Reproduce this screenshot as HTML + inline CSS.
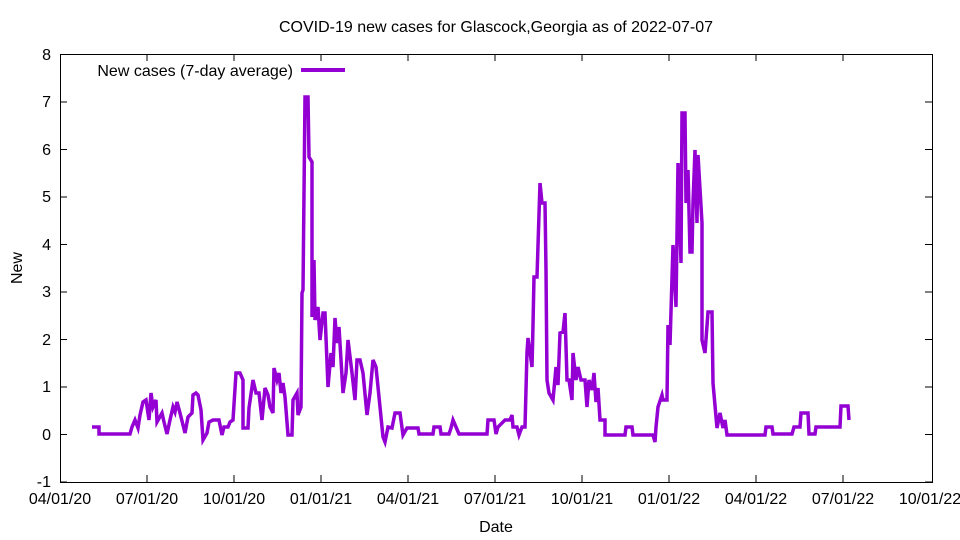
<!DOCTYPE html>
<html><head><style>body{margin:0;background:#fff}svg{display:block}text{font-family:"Liberation Sans",sans-serif;font-size:16px;fill:#000}</style></head><body>
<svg width="960" height="540" viewBox="0 0 960 540">
<rect x="60.5" y="54.5" width="872" height="428" fill="none" stroke="#000" stroke-width="1"/>
<g stroke="#000" stroke-width="1">
<path d="M60 54.5h7M60 102h7M60 149.5h7M60 197h7M60 244.5h7M60 292h7M60 339.5h7M60 387h7M60 434.5h7M60 482h7"/>
<path d="M932 54.5h-7M932 102h-7M932 149.5h-7M932 197h-7M932 244.5h-7M932 292h-7M932 339.5h-7M932 387h-7M932 434.5h-7M932 482h-7"/>
<path d="M147 482v-7M234 482v-7M321 482v-7M408 482v-7M495 482v-7M582 482v-7M669 482v-7M756 482v-7M843 482v-7"/>
<path d="M147 54v7M234 54v7M321 54v7M408 54v7M495 54v7M582 54v7M669 54v7M756 54v7M843 54v7"/>
</g>
<g text-anchor="end">
<text x="51" y="60">8</text><text x="51" y="107">7</text><text x="51" y="155">6</text><text x="51" y="202">5</text><text x="51" y="250">4</text><text x="51" y="297">3</text><text x="51" y="345">2</text><text x="51" y="392">1</text><text x="51" y="440">0</text><text x="51" y="487">-1</text>
</g>
<g text-anchor="middle">
<text x="60" y="504">04/01/20</text><text x="147" y="504">07/01/20</text><text x="234" y="504">10/01/20</text><text x="321" y="504">01/01/21</text><text x="408" y="504">04/01/21</text><text x="495" y="504">07/01/21</text><text x="582" y="504">10/01/21</text><text x="669" y="504">01/01/22</text><text x="756" y="504">04/01/22</text><text x="843" y="504">07/01/22</text><text x="930" y="504">10/01/22</text>
<text x="496" y="532">Date</text>
<text x="496" y="32">COVID-19 new cases for Glascock,Georgia as of 2022-07-07</text>
</g>
<text x="22" y="268" text-anchor="middle" transform="rotate(-90 22 268)">New</text>
<text x="293" y="76" text-anchor="end">New cases (7-day average)</text>
<path d="M301 70h44" stroke="#9400d3" stroke-width="4"/>
<polyline fill="none" stroke="#9400d3" stroke-width="3.5" stroke-linejoin="miter" points="
92,427 99,427 99,434 130,434 132,427 135,420 138,428 140,415 143,402 146,400 149,420 151,393 153,407 156,400 157,422 162,413 164,422 167,434 170,420 173,407 175,412 177,402 180,413 185,433 188,417 192,413 193,395 196,393 198,395 201,410 203,440 207,433 209,422 213,420 219,420 222,435 224,427 228,427 230,422 233,420 236,373 240,373 243,380 243,428 248,428 249,408 253,380 256,393 259,393 262,420 265,388 268,395 270,407 273,413 274,368 277,380 279,373 281,393 283,383 285,397 288,435 292,435 293,400 297,393 298,415 301,407 302,293 303,290 305,97 308,97 309,157 312,162 312,317 314,260 315,320 318,307 320,340 323,313 325,313 328,387 331,353 333,367 335,318 337,343 339,327 343,393 346,373 348,340 352,373 355,400 357,360 360,360 363,373 367,415 370,393 373,360 376,367 380,407 383,437 385,442 388,427 392,428 395,413 400,413 403,435 407,428 418,428 419,434 433,434 434,427 440,427 441,434 449,434 451,428 453,420 456,427 459,434 487,434 488,420 494,420 496,434 498,427 505,420 507,420 510,420 512,415 513,427 517,427 519,435 522,427 525,427 527,352 528,338 530,352 532,367 533,325 534,277 537,277 540,183 542,203 545,203 546,270 547,380 549,393 553,400 556,367 558,385 560,333 563,332 565,313 567,380 569,380 572,400 573,353 576,380 578,367 581,380 585,380 587,407 589,380 592,390 594,373 596,402 598,388 600,420 605,420 605,435 625,435 626,427 632,427 633,435 653,435 655,442 656,427 658,407 662,395 663,400 667,400 668,325 670,345 673,245 676,307 678,163 681,263 682,113 685,113 686,203 688,170 690,252 692,252 693,203 695,150 697,223 698,155 702,223 702,340 705,353 708,312 712,312 713,383 717,428 720,413 723,428 725,420 727,435 765,435 766,427 772,427 773,434 792,434 794,427 800,427 801,413 808,413 809,434 815,434 816,427 840,427 841,406 848,406 849,420"/>
</svg>
</body></html>
